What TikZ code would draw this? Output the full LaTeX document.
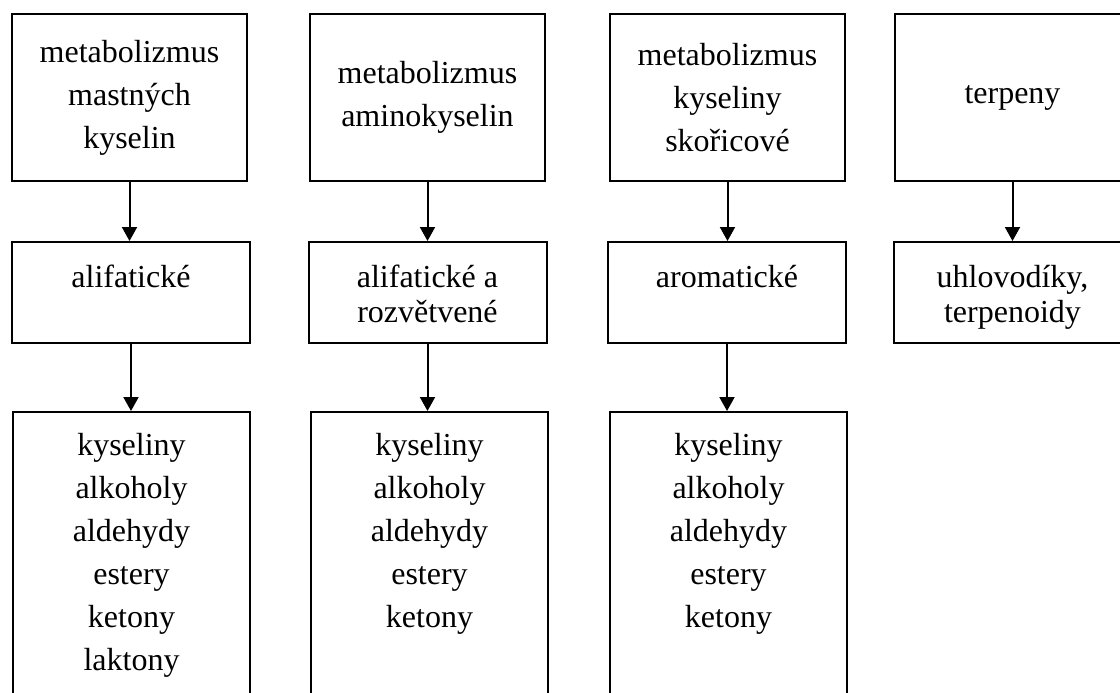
\documentclass[tikz,border=0pt]{standalone}
\usepackage{fontspec}
\setmainfont{Liberation Serif}
\usetikzlibrary{arrows.meta}

\newcommand{\toptxt}[1]{\parbox[c][167pt][c]{235pt}{\centering #1}}
\newcommand{\midtxt}[1]{\parbox[t][101pt][t]{238pt}{\centering\rule{0pt}{45pt}#1}}
\newcommand{\lowtxt}[1]{\parbox[t][308pt][t]{237pt}{\centering\rule{0pt}{43pt}#1}}

\tikzset{
  box/.style={draw, line width=2pt, inner sep=0pt, font=\fontsize{32}{43}\selectfont},
  midbox/.style={box, font=\fontsize{32}{35}\selectfont},
  link/.style={line width=2pt, -{Triangle[length=14pt, width=15pt]}}
}

\begin{document}
\begin{tikzpicture}[x=1pt,y=-1pt]
\useasboundingbox (0,0) rectangle (1120,693);
\clip (0,0) rectangle (1120,693);
\node[box] (met1) at (129.5,97.5) {\toptxt{metabolizmus\\mastných\\kyselin}};
\node[box] (met2) at (427.5,97.5) {\toptxt{metabolizmus\\aminokyselin}};
\node[box] (met3) at (727.5,97.5) {\toptxt{metabolizmus\\kyseliny\\skořicové}};
\node[box] (met4) at (1012.5,97.5) {\toptxt{terpeny}};

\node[midbox] (grp1) at (131,292.5) {\midtxt{alifatické}};
\node[midbox] (grp2) at (427.5,292.5) {\midtxt{alifatické a\\rozvětvené}};
\node[midbox] (grp3) at (727,292.5) {\midtxt{aromatické}};
\node[midbox] (grp4) at (1012.5,292.5) {\midtxt{uhlovodíky,\\terpenoidy}};

\node[box] (lst1) at (131.5,566) {\lowtxt{kyseliny\\alkoholy\\aldehydy\\estery\\ketony\\laktony}};
\node[box] (lst2) at (429.5,566) {\lowtxt{kyseliny\\alkoholy\\aldehydy\\estery\\ketony}};
\node[box] (lst3) at (728.5,566) {\lowtxt{kyseliny\\alkoholy\\aldehydy\\estery\\ketony}};

\draw[link] (met1.south) -- (met1.south |- grp1.north);
\draw[link] (met2.south) -- (met2.south |- grp2.north);
\draw[link] (met3.south) -- (met3.south |- grp3.north);
\draw[link] (met4.south) -- (met4.south |- grp4.north);
\draw[link] (grp1.south) -- (grp1.south |- lst1.north);
\draw[link] (grp2.south) -- (grp2.south |- lst2.north);
\draw[link] (grp3.south) -- (grp3.south |- lst3.north);
\end{tikzpicture}
\end{document}
